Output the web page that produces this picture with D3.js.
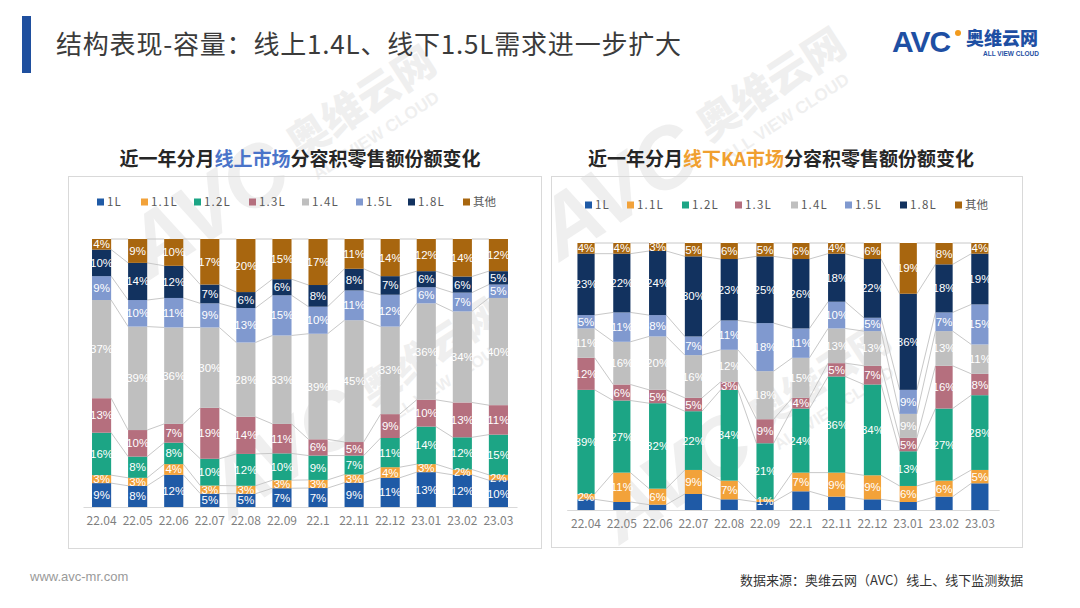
<!DOCTYPE html>
<html><head><meta charset="utf-8">
<script src="https://cdn.jsdelivr.net/npm/d3@7"></script>
<style>
html,body{margin:0;padding:0;background:#fff;}
svg{display:block;font-family:"Noto Sans CJK SC","Noto Sans",sans-serif;}
</style></head>
<body><svg id="c" width="1080" height="608"></svg>
<script>
// ---------- data ----------
const categories = ["22.04","22.05","22.06","22.07","22.08","22.09","22.1","22.11","22.12","23.01","23.02","23.03"];
const seriesNames = ["1L","1.1L","1.2L","1.3L","1.4L","1.5L","1.8L","其他"];
const seriesColors = ["#1f5aa6","#f2a23a","#1ca585","#b56f7e","#bfbfbf","#8099cf","#12325f","#a8660f"];

// online (线上)
const on_1L  = [9,8,12,5,5,7,7,9,11,13,12,10];
const on_11L = [3,3,4,3,3,3,3,3,4,3,2,2];
const on_12L = [16,8,8,10,12,10,9,7,11,14,12,15];
const on_13L = [13,10,7,19,14,11,6,5,9,10,13,11];
const on_14L = [37,39,36,30,28,33,39,45,33,36,34,40];
const on_15L = [9,10,11,9,13,15,10,11,12,6,7,5];
const on_18L = [10,14,12,7,6,6,8,8,7,6,6,5];
const on_other = [4,9,10,17,20,15,17,11,14,12,14,12];

// offline KA (线下KA)
const off_1L  = [4,3,2,6,4,3,7,5,4,3,5,10];
const off_11L = [2,11,6,9,7,1,7,9,9,6,6,5];
const off_12L = [39,27,32,22,34,21,24,36,34,13,27,28];
const off_13L = [12,6,5,5,3,9,4,5,7,5,16,8];
const off_14L = [11,16,20,16,12,18,15,13,13,9,13,11];
const off_15L = [5,11,8,7,11,18,11,10,5,9,7,15];
const off_18L = [23,22,24,30,23,25,26,18,22,36,18,19];
const off_other = [4,4,3,5,6,5,6,4,6,19,8,4];

const onlineSeries = [on_1L,on_11L,on_12L,on_13L,on_14L,on_15L,on_18L,on_other];
const offlineSeries = [off_1L,off_11L,off_12L,off_13L,off_14L,off_15L,off_18L,off_other];

// ---------- drawing ----------
const svg = d3.select("#c");

// watermarks (faint)
function watermark(x, y, s){
  const g = svg.append("g").attr("transform",`translate(${x},${y}) rotate(-33) scale(${s})`).attr("opacity",0.09);
  g.append("text").attr("x",0).attr("y",0).attr("font-size",90).attr("font-weight",900)
    .attr("font-style","italic").attr("fill","#555").attr("font-family","Liberation Sans, sans-serif").text("AVC");
  g.append("text").attr("x",200).attr("y",-20).attr("font-size",44).attr("font-weight",900)
    .attr("fill","#555").text("奥维云网");
  g.append("text").attr("x",205).attr("y",8).attr("font-size",18).attr("font-weight",700)
    .attr("fill","#555").attr("font-family","Liberation Sans, sans-serif").text("ALL VIEW CLOUD");
}
watermark(150, 280, 0.95);
watermark(560, 262, 0.95);
watermark(230, 520, 0.9);
watermark(620, 545, 0.9);

// header
svg.append("rect").attr("x",22).attr("y",16).attr("width",9).attr("height",57).attr("fill","#1f4f9e");
svg.append("text").attr("x",56).attr("y",54).attr("font-size",26).attr("fill","#3b3b3b").attr("letter-spacing",0.8)
  .text("结构表现-容量：线上1.4L、线下1.5L需求进一步扩大");

// logo
const logo = svg.append("g");
logo.append("text").attr("x",892).attr("y",52).attr("font-size",30).attr("font-weight",900)
  .attr("font-family","Liberation Sans, sans-serif").attr("fill","#1e4fa3").attr("letter-spacing",-1).text("AVC");
logo.append("circle").attr("cx",958).attr("cy",33).attr("r",3).attr("fill","#f29b1d");
logo.append("text").attr("x",966).attr("y",45).attr("font-size",18).attr("font-weight",900)
  .attr("fill","#1e4fa3").text("奥维云网");
logo.append("text").attr("x",983).attr("y",56).attr("font-size",6.5).attr("font-weight",700)
  .attr("font-family","Liberation Sans, sans-serif").attr("fill","#1e4fa3").text("ALL VIEW CLOUD");

// footer
svg.append("text").attr("x",30).attr("y",581).attr("font-size",13).attr("fill","#9a9a9a")
  .attr("font-family","Liberation Sans, sans-serif").text("www.avc-mr.com");
svg.append("text").attr("x",740).attr("y",585).attr("font-size",13).attr("fill","#333")
  .text("数据来源：奥维云网（AVC）线上、线下监测数据");

function drawPanel(cfg){
  const g = svg.append("g");
  g.append("rect").attr("x",cfg.box[0]).attr("y",cfg.box[1]).attr("width",cfg.box[2]).attr("height",cfg.box[3])
    .attr("fill","none").attr("stroke","#d9d9d9").attr("stroke-width",1);
  const t = g.append("text").attr("x",cfg.titleX).attr("y",cfg.titleY).attr("text-anchor","middle")
    .attr("font-size",19).attr("font-weight",700).attr("fill","#262626");
  t.append("tspan").text(cfg.title[0]);
  t.append("tspan").attr("fill",cfg.hiColor).text(cfg.title[1]);
  t.append("tspan").text(cfg.title[2]);

  seriesNames.forEach((s,i)=>{
    const lx = cfg.legendX[i];
    g.append("rect").attr("x",lx).attr("y",cfg.legendY-3.5).attr("width",7).attr("height",7).attr("fill",seriesColors[i]);
    g.append("text").attr("x",lx+10).attr("y",cfg.legendY+4).attr("font-size",11.5).attr("fill","#595959")
      .attr("letter-spacing",s==="其他"?0:1.2).text(s);
  });

  const rows = categories.map((c,i)=>{
    const r = {cat:c};
    seriesNames.forEach((s,k)=>{ r[s] = cfg.values[k][i]; });
    return r;
  });
  const stack = d3.stack().keys(seriesNames).offset(d3.stackOffsetExpand);
  const layers = stack(rows);

  const x = d3.scaleBand().domain(categories).range(cfg.xRange).paddingInner(cfg.padIn).paddingOuter(cfg.padOut);
  const y = d3.scaleLinear().domain([0,1]).range(cfg.yRange);
  const bw = x.bandwidth();

  layers.forEach(layer=>{
    for(let i=0;i<categories.length-1;i++){
      g.append("line")
        .attr("x1",x(categories[i])+bw).attr("y1",y(layer[i][1]))
        .attr("x2",x(categories[i+1])).attr("y2",y(layer[i+1][1]))
        .attr("stroke","#c8c8c8").attr("stroke-width",1);
    }
  });

  layers.forEach((layer,k)=>{
    g.append("g").selectAll("rect").data(layer).join("rect")
      .attr("x",d=>x(d.data.cat)).attr("width",bw)
      .attr("y",d=>y(d[1])).attr("height",d=>y(d[0])-y(d[1]))
      .attr("fill",seriesColors[k]);
  });
  layers.forEach((layer,k)=>{
    if(cfg.hideLabels.includes(seriesNames[k])) return;
    g.append("g").selectAll("text").data(layer).join("text")
      .attr("x",d=>x(d.data.cat)+bw/2).attr("y",d=>(y(d[0])+y(d[1]))/2+4)
      .attr("text-anchor","middle").attr("font-size",11.5).attr("fill","#fff")
      .attr("font-family","Liberation Sans, Noto Sans, sans-serif")
      .text(d=>d.data[seriesNames[k]]+"%");
  });

  const ax = g.append("g").attr("transform",`translate(0,${cfg.yRange[0]})`)
    .call(d3.axisBottom(x).tickSize(0).tickPadding(9).tickSizeOuter(0));
  ax.select(".domain").attr("stroke","#d9d9d9");
  ax.selectAll("text").attr("font-size",12).attr("fill","#7f7f7f")
    .attr("font-family","Noto Sans CJK SC, sans-serif");
}

drawPanel({
  box:[68.5,176.5,473,372],
  title:["近一年分月","线上市场","分容积零售额份额变化"], hiColor:"#4a74c9",
  titleX:300, titleY:166,
  legendX:[97,141,194,249,302,356,408,463], legendY:202,
  values: onlineSeries,
  xRange:[83,517], padIn:0.47, padOut:0.25,
  yRange:[507,239],
  hideLabels:[]
});
drawPanel({
  box:[551.5,176.5,471,371],
  title:["近一年分月","线下KA市场","分容积零售额份额变化"], hiColor:"#f0a030",
  titleX:781, titleY:166,
  legendX:[585,627,682,735,791,845,900,955], legendY:205,
  values: offlineSeries,
  xRange:[566.7,999.2], padIn:0.52, padOut:0.3,
  yRange:[510,243],
  hideLabels:["1L"]
});
</script></body></html>
